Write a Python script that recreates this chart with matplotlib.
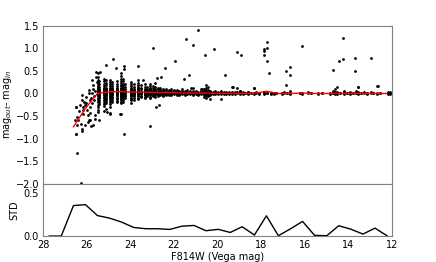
import numpy as np
import matplotlib
matplotlib.use('Agg')
import matplotlib.pyplot as plt

# ------------------- binned curves -------------------
bin_mag = [27.72, 27.17, 26.61, 26.06, 25.51, 24.95, 24.40, 23.85, 23.29, 22.74,
           22.19, 21.63, 21.08, 20.53, 19.97, 19.42, 18.87, 18.31, 17.76, 17.21,
           16.65, 16.10, 15.55, 14.99, 14.44, 13.89, 13.33, 12.78, 12.23]
bin_std = [0.0, 0.0, 0.354, 0.365, 0.238, 0.208, 0.162, 0.100, 0.085, 0.085,
           0.077, 0.115, 0.123, 0.062, 0.078, 0.042, 0.108, 0.012, 0.235, 0.004,
           0.085, 0.170, 0.008, 0.004, 0.120, 0.080, 0.023, 0.092, 0.004]
bin_median = [np.nan, np.nan, -0.74, -0.33, 0.0, 0.04, 0.04, 0.03, 0.03, 0.02,
              0.02, 0.01, 0.01, 0.01, 0.0, 0.0, 0.0, 0.0, 0.05, 0.0,
              0.0, 0.01, 0.0, 0.0, 0.0, 0.0, 0.0, 0.0, 0.0]

# ------------------- faint stars (sparse) -------------------
mag_faint = [26.49, 26.44, 26.42, 26.49, 26.50, 26.47, 26.23, 26.20, 26.18, 26.15,
             26.25, 26.20, 26.10, 26.05, 26.02, 26.00, 25.95, 25.92, 25.90, 25.87,
             25.85, 25.82, 25.75, 25.73, 25.70, 25.67, 25.65, 25.63, 25.61, 25.58,
             25.58, 25.55, 26.17, 26.13, 26.09, 25.93, 25.84, 25.70, 25.86, 25.78,
             25.89, 25.80, 25.76, 25.60, 25.39, 26.35, 26.30, 26.55]
dmag_faint = [-0.31, -0.53, -0.58, -0.89, -0.30, -0.71, -0.04, -0.15, -0.30, -0.45,
              -0.67, -0.78, -0.71, -0.22, -0.07, -0.37, -0.48, -0.59, 0.07, -0.15,
              -0.30, -0.73, 0.30, 0.19, 0.11, -0.06, -0.15, -0.48, -0.56, 0.48,
              0.36, 0.26, -0.37, -0.19, -0.26, -0.63, -0.60, -0.71, -0.44, -0.21,
              0.0, -0.10, 0.02, 0.05, 0.48, -0.40, -0.25, -0.60]

# ------------------- dense columns of injected stars -------------------
col_mag = [25.50, 25.42, 25.20, 25.12, 24.92, 24.82, 24.62, 24.45, 24.32, 24.25,
           23.98, 23.85, 23.65, 23.52, 23.35, 23.25, 23.10, 22.98, 22.88, 22.75,
           22.62, 22.50, 22.38, 22.25, 22.12, 22.00, 21.88, 21.75, 21.62, 21.50,
           21.38, 21.25, 21.12, 21.00, 20.88, 20.75, 20.62, 20.55, 20.45, 20.35,
           20.22, 20.10, 19.98, 19.85, 19.72, 19.60, 19.48, 19.35, 19.22, 19.10,
           18.98, 18.85, 18.72, 18.60, 18.48, 18.35, 18.22, 18.10, 17.85, 17.72,
           17.55, 17.42, 17.30, 17.05, 16.95, 16.80, 16.70, 16.20, 16.12, 15.85,
           15.70, 15.40, 15.20, 14.85, 14.72, 14.62, 14.52, 14.40, 14.20, 14.05,
           13.92, 13.80, 13.65, 13.55, 13.42, 13.28, 13.15, 12.98, 12.85, 12.70,
           12.55, 12.20, 12.08]
col_dmag = [
    [0.45, 0.36, 0.30, 0.25, 0.20, 0.17, 0.14, 0.12, 0.10, 0.08, 0.06, 0.05, 0.04, 0.03,
     0.02, 0.0, -0.02, -0.04, -0.06, -0.09, -0.12, -0.16, -0.20, -0.25, -0.30, -0.36, -0.42],
    [0.28, 0.22, 0.15, 0.11, 0.07, 0.05, 0.03, 0.01, -0.01, -0.03, -0.05, -0.08, -0.11,
     -0.15, -0.19, -0.24, -0.60],
    [0.33, 0.27, 0.21, 0.16, 0.12, 0.09, 0.07, 0.05, 0.03, 0.02, 0.0, -0.02, -0.04, -0.07,
     -0.10, -0.14, -0.18, -0.23, -0.28, -0.40],
    [0.30, 0.24, 0.18, 0.13, 0.10, 0.08, 0.06, 0.04, 0.02, 0.01, -0.01, -0.03, -0.06,
     -0.09, -0.13, -0.17, -0.22, -0.35],
    [0.30, 0.25, 0.20, 0.16, 0.13, 0.10, 0.08, 0.06, 0.05, 0.04, 0.02, 0.01, -0.01, -0.03,
     -0.05, -0.08, -0.11, -0.15, -0.19, -0.24, -0.30, -0.44],
    [0.26, 0.21, 0.16, 0.12, 0.09, 0.07, 0.05, 0.03, 0.02, 0.0, -0.02, -0.04, -0.07,
     -0.10, -0.14, -0.18],
    [0.28, 0.22, 0.17, 0.13, 0.10, 0.08, 0.06, 0.04, 0.03, 0.01, 0.0, -0.02, -0.04, -0.06,
     -0.09, -0.12, -0.16, -0.20],
    [0.45, 0.38, 0.32, 0.27, 0.23, 0.19, 0.16, 0.13, 0.11, 0.09, 0.07, 0.05, 0.04, 0.03,
     0.02, 0.01, 0.0, -0.01, -0.03, -0.05, -0.07, -0.09, -0.12, -0.15, -0.18, -0.22, -0.45],
    [0.33, 0.27, 0.22, 0.18, 0.14, 0.11, 0.09, 0.07, 0.05, 0.04, 0.03, 0.02, 0.01, -0.01,
     -0.03, -0.05, -0.08, -0.11, -0.15, -0.19],
    [0.22, 0.15, 0.10, 0.06, 0.04, 0.02, 0.0, -0.03, -0.06, -0.10],
    [0.26, 0.21, 0.17, 0.13, 0.10, 0.08, 0.06, 0.05, 0.04, 0.03, 0.02, 0.01, 0.0, -0.02,
     -0.04, -0.06, -0.09, -0.12, -0.15, -0.21],
    [0.20, 0.15, 0.11, 0.08, 0.06, 0.04, 0.03, 0.02, 0.01, -0.01, -0.03, -0.06, -0.10, -0.14],
    [0.30, 0.24, 0.19, 0.15, 0.12, 0.09, 0.07, 0.05, 0.04, 0.03, 0.02, 0.01, -0.01, -0.03,
     -0.06, -0.09, -0.13],
    [0.18, 0.13, 0.09, 0.06, 0.04, 0.03, 0.02, 0.0, -0.02, -0.05, -0.08],
    [0.20, 0.15, 0.11, 0.08, 0.06, 0.04, 0.03, 0.02, 0.01, 0.0, -0.02, -0.04, -0.07, -0.10],
    [0.14, 0.10, 0.07, 0.05, 0.03, 0.02, 0.01, -0.01, -0.03, -0.06],
    [0.22, 0.16, 0.12, 0.09, 0.07, 0.05, 0.04, 0.03, 0.02, 0.01, 0.0, -0.02, -0.04, -0.07, -0.10],
    [0.17, 0.12, 0.08, 0.06, 0.04, 0.03, 0.02, 0.01, -0.01, -0.03, -0.06],
    [0.15, 0.10, 0.07, 0.05, 0.03, 0.02, 0.01, 0.0, -0.02, -0.04, -0.07],
    [0.13, 0.09, 0.06, 0.04, 0.03, 0.02, 0.01, -0.01, -0.03, -0.05],
    [0.12, 0.08, 0.05, 0.03, 0.02, 0.01, 0.0, -0.02, -0.04],
    [0.10, 0.07, 0.05, 0.03, 0.02, 0.01, -0.01, -0.03, -0.05],
    [0.11, 0.07, 0.04, 0.03, 0.02, 0.0, -0.02, -0.04],
    [0.08, 0.05, 0.03, 0.02, 0.01, -0.01, -0.03],
    [0.09, 0.06, 0.04, 0.02, 0.01, 0.0, -0.02, -0.04],
    [0.07, 0.05, 0.03, 0.02, 0.0, -0.02],
    [0.08, 0.05, 0.03, 0.01, 0.0, -0.02, -0.04],
    [0.06, 0.04, 0.02, 0.01, -0.01, -0.03],
    [0.09, 0.05, 0.03, 0.02, 0.0, -0.02],
    [0.06, 0.04, 0.02, 0.01, -0.01, -0.03],
    [0.07, 0.04, 0.02, 0.0, -0.02],
    [0.05, 0.03, 0.01, 0.0, -0.02],
    [0.12, 0.06, 0.04, 0.02, 0.01, -0.01, -0.03],
    [0.05, 0.03, 0.01, -0.01],
    [0.04, 0.02, 0.01, -0.01, -0.03],
    [0.11, 0.05, 0.03, 0.01, 0.0, -0.02],
    [0.10, 0.05, 0.03, 0.01, -0.01, -0.04, -0.08],
    [0.18, 0.12, 0.07, 0.04, 0.02, 0.0, -0.02, -0.05, -0.10],
    [0.15, 0.08, 0.04, 0.02, 0.0, -0.03, -0.06],
    [0.05, 0.03, 0.01, -0.01, -0.03, -0.12],
    [0.04, 0.02, 0.0, -0.02],
    [0.06, 0.03, 0.01, -0.01],
    [0.04, 0.02, 0.0, -0.02],
    [0.05, 0.02, 0.0, -0.01, -0.12],
    [0.03, 0.01, -0.01],
    [0.04, 0.02, 0.0, -0.02],
    [0.03, 0.01, -0.01],
    [0.15, 0.03, 0.0, -0.02],
    [0.04, 0.01, -0.01],
    [0.12, 0.03, 0.0],
    [0.06, 0.05, 0.02, 0.0, -0.02],
    [0.03, 0.01, -0.01],
    [0.02, 0.0],
    [0.04, 0.03, 0.01, -0.01],
    [0.02, 0.0],
    [0.13, 0.02, 0.0, -0.01],
    [0.03, 0.01],
    [0.02, 0.0, -0.01],
    [0.03, 0.01, -0.01],
    [0.02, 0.0],
    [0.02, 0.0, -0.01],
    [0.01, -0.01],
    [0.02, 0.0],
    [0.02, 0.0, -0.01],
    [0.03, 0.01],
    [0.02, 0.0],
    [0.05, 0.01, -0.01],
    [0.02, 0.0],
    [0.01, -0.01],
    [0.03, 0.01],
    [0.02, 0.0],
    [0.01, -0.01],
    [0.02, 0.0],
    [0.01, -0.01],
    [0.05, 0.02, 0.0],
    [0.10, 0.04, 0.01, -0.01],
    [0.15, 0.03, 0.01, -0.01],
    [0.02, 0.0],
    [0.06, 0.03, 0.01, -0.01],
    [0.02, 0.0],
    [0.04, 0.01, -0.01],
    [0.02, 0.0],
    [0.05, 0.02, 0.0],
    [0.15, 0.03, 0.01, -0.01],
    [0.02, 0.0],
    [0.03, 0.01],
    [0.02, 0.0, -0.01],
    [0.04, 0.01],
    [0.02, 0.0],
    [0.17, 0.01, -0.01],
    [0.02, 0.0],
    [0.03, 0.01, -0.02],
    [0.03, 0.0, -0.02],
]

# ------------------- outliers -------------------
mag_out = [25.10, 24.79, 24.68, 24.27, 24.27, 23.63, 22.97, 22.39, 21.94, 21.47,
           20.92, 21.12, 20.57, 20.16, 21.53, 21.32, 22.80, 22.60, 23.40, 22.86,
           19.65, 19.09, 18.92, 17.71, 17.72, 17.85, 17.86, 17.85, 17.71, 17.65,
           16.88, 16.68, 16.68, 16.88, 16.12, 14.24, 14.45, 14.24, 14.70, 13.69,
           13.69, 12.94, 12.65, 13.58, 20.72, 19.30, 23.12, 24.27, 24.47, 22.82,
           22.68, 26.49, 26.20, 26.45, 26.26, 25.08, 24.93, 18.35, 21.20]
dmag_out = [0.63, 0.77, 0.56, 0.62, 0.54, 0.61, 1.02, 0.56, 0.72, 1.20,
            1.41, 1.08, 0.85, 0.98, 0.33, 0.40, 0.34, 0.37, 0.30, 0.23,
            0.40, 0.92, 0.85, 1.14, 1.02, 0.98, 0.94, 0.85, 0.72, 0.45,
            0.51, 0.58, 0.41, 0.18, 1.05, 1.23, 0.73, 0.77, 0.53, 0.79,
            0.50, 0.78, 0.16, 0.15, 0.11, 0.15, -0.72, -0.91, -0.45, -0.31,
            -0.26, -0.91, -0.83, -1.33, -1.98, -0.41, -0.45, 0.13, 0.12]

# ------------------- collect points -------------------
x_pts = list(mag_faint) + list(mag_out)
y_pts = list(dmag_faint) + list(dmag_out)
for m, dys in zip(col_mag, col_dmag):
    x_pts += [m] * len(dys)
    y_pts += dys

# ------------------- figure -------------------
fig = plt.figure(figsize=(4.36, 2.62), dpi=100)
gs = fig.add_gridspec(2, 1, height_ratios=[3, 1], hspace=0,
                      left=0.099, right=0.899, top=0.901, bottom=0.099)
ax1 = fig.add_subplot(gs[0])
ax2 = fig.add_subplot(gs[1], sharex=ax1)

ax1.scatter(x_pts, y_pts, s=4, c='k', linewidths=0, zorder=2)
ax1.plot(bin_mag, bin_median, color='red', lw=1, zorder=3)
ax1.set_ylim(-2.0, 1.5)
ax1.set_yticks([-2.0, -1.5, -1.0, -0.5, 0.0, 0.5, 1.0, 1.5])
ax1.set_ylabel('mag$_{out}$- mag$_{in}$', fontsize=7, labelpad=1)
ax1.tick_params(labelbottom=False)

ax2.plot(bin_mag, bin_std, color='k', lw=1)
ax2.set_ylim(0, 0.61)
ax2.set_yticks([0.0, 0.5])
ax2.set_ylabel('STD', fontsize=7, labelpad=3)
ax2.set_xlim(28, 12)
ax2.set_xticks([28, 26, 24, 22, 20, 18, 16, 14, 12])
ax2.set_xlabel('F814W (Vega mag)', fontsize=7, labelpad=1)

for ax in (ax1, ax2):
    ax.tick_params(length=0, labelsize=7, pad=3)
    for sp in ax.spines.values():
        sp.set_color('0.5')
        sp.set_linewidth(0.8)

fig.savefig('out.png', dpi=100)
